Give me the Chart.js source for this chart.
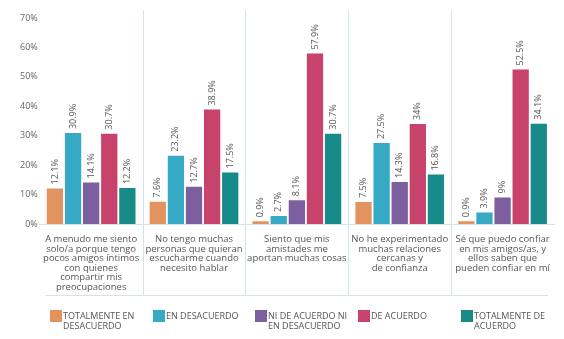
<!DOCTYPE html>
<html>
<head>
<meta charset="utf-8">
<script src="https://cdn.jsdelivr.net/npm/chart.js@4"></script>
<style>
  html, body { margin: 0; padding: 0; background: #fff; }
  #caja { width: 564px; height: 339px; position: relative; }
</style>
</head>
<body>
<div id="caja"><canvas id="barChart"></canvas></div>
<script>
// Afirmaciones (categorias del eje x, ya partidas en lineas)
var afirmaciones = [
    ['A menudo me siento', 'solo/a porque tengo', 'pocos amigos íntimos', 'con quienes', 'compartir mis', 'preocupaciones'],
    ['No tengo muchas', 'personas que quieran', 'escucharme cuando', 'necesito hablar'],
    ['Siento que mis', 'amistades me', 'aportan muchas cosas'],
    ['No he experimentado', 'muchas relaciones', 'cercanas y', 'de confianza'],
    ['Sé que puedo confiar', 'en mis amigos/as, y', 'ellos saben que', 'pueden confiar en mí']
];

// Respuestas (series)
var respuestas = [
    ['TOTALMENTE EN', 'DESACUERDO'],
    ['EN DESACUERDO'],
    ['NI DE ACUERDO NI', 'EN DESACUERDO'],
    ['DE ACUERDO'],
    ['TOTALMENTE DE', 'ACUERDO']
];

var totalDesacuerdo = [12.1, 7.6, 0.9, 7.5, 0.9];
var enDesacuerdo = [30.9, 23.2, 2.7, 27.5, 3.9];
var niAcuerdo = [14.1, 12.7, 8.1, 14.3, 9];
var deAcuerdo = [30.7, 38.9, 57.9, 34, 52.5];
var totalAcuerdo = [12.2, 17.5, 30.7, 16.8, 34.1];

// Etiquetas tal como aparecen encima de cada barra
var textoTotalDesacuerdo = ['12.1%', '7.6%', '0.9%', '7.5%', '0.9%'];
var textoEnDesacuerdo = ['30.9%', '23.2%', '2.7%', '27.5%', '3.9%'];
var textoNiAcuerdo = ['14.1%', '12.7%', '8.1%', '14.3%', '9%'];
var textoDeAcuerdo = ['30.7%', '38.9%', '57.9%', '34%', '52.5%'];
var textoTotalAcuerdo = ['12.2%', '17.5%', '30.7%', '16.8%', '34.1%'];

var ejeY = [0, 10, 20, 30, 40, 50, 60, 70];

var colores = ['#E3935F', '#36AAC4', '#7D5E9F', '#C8436B', '#178B89'];
var fuente = "'Open Sans', sans-serif";
var lineaClara = '#D3E5EB';

var valores = [totalDesacuerdo, enDesacuerdo, niAcuerdo, deAcuerdo, totalAcuerdo];
var textos = [textoTotalDesacuerdo, textoEnDesacuerdo, textoNiAcuerdo, textoDeAcuerdo, textoTotalAcuerdo];

var datasets = [];
for (var i = 0; i < valores.length; i++) {
    datasets.push({
        label: respuestas[i].join(' '),
        data: valores[i],
        etiquetas: textos[i],
        backgroundColor: colores[i],
        borderWidth: 0,
        barPercentage: 0.9,
        categoryPercentage: 0.88
    });
}

// Porcentajes girados encima de cada barra
var pluginEtiquetas = {
    id: 'etiquetas',
    afterDatasetsDraw: function (chart) {
        var ctx = chart.ctx;
        ctx.save();
        ctx.font = '9px ' + fuente;
        ctx.fillStyle = '#555';
        ctx.textAlign = 'left';
        ctx.textBaseline = 'middle';
        chart.data.datasets.forEach(function (ds, d) {
            chart.getDatasetMeta(d).data.forEach(function (bar, j) {
                ctx.save();
                ctx.translate(bar.x, bar.y - 4);
                ctx.rotate(-Math.PI / 2);
                ctx.fillText(ds.etiquetas[j], 0, 0);
                ctx.restore();
            });
        });
        ctx.restore();
    }
};

// Separadores entre grupos, linea inferior y leyenda
var pluginMarco = {
    id: 'marco',
    afterDraw: function (chart) {
        var ctx = chart.ctx;
        var x = chart.scales.x;
        var area = chart.chartArea;
        var paso = x.getPixelForValue(1) - x.getPixelForValue(0);
        var fondo = 295;
        ctx.save();
        ctx.strokeStyle = lineaClara;
        ctx.lineWidth = 1;
        for (var i = 1; i < afirmaciones.length; i++) {
            var px = Math.round(x.getPixelForValue(i) - paso / 2) + 0.5;
            ctx.beginPath();
            ctx.moveTo(px, 10);
            ctx.lineTo(px, fondo);
            ctx.stroke();
        }
        ctx.beginPath();
        ctx.moveTo(area.left + 6, fondo + 0.5);
        ctx.lineTo(area.right - 6, fondo + 0.5);
        ctx.stroke();

        // leyenda
        ctx.font = '9px ' + fuente;
        ctx.textAlign = 'left';
        ctx.textBaseline = 'middle';
        for (var k = 0; k < respuestas.length; k++) {
            var lx = Math.round(x.getPixelForValue(k) - paso / 2) + 10;
            ctx.fillStyle = colores[k];
            ctx.fillRect(lx, 310, 12, 12);
            ctx.fillStyle = '#555';
            for (var l = 0; l < respuestas[k].length; l++) {
                ctx.fillText(respuestas[k][l], lx + 13, 316 + l * 10);
            }
        }
        ctx.restore();
    }
};

new Chart(document.getElementById('barChart').getContext('2d'), {
    type: 'bar',
    data: {
        labels: afirmaciones,
        datasets: datasets
    },
    options: {
        responsive: true,
        maintainAspectRatio: false,
        animation: false,
        layout: { padding: { left: 18, right: 10, top: 18, bottom: 44 } },
        plugins: {
            legend: { display: false },
            tooltip: { enabled: false }
        },
        scales: {
            y: {
                min: 0,
                max: 70,
                afterBuildTicks: function (scale) {
                    scale.ticks = ejeY.map(function (v) { return { value: v }; });
                },
                ticks: {
                    callback: function (v) { return v + '%'; },
                    font: { family: fuente, size: 9 },
                    color: '#666',
                    padding: 2
                },
                grid: { display: false, tickLength: 0 },
                border: { display: false }
            },
            x: {
                grid: { display: false },
                border: { color: lineaClara },
                ticks: {
                    font: { family: fuente, size: 9.5, lineHeight: 1.0 },
                    color: '#555',
                    padding: 3,
                    maxRotation: 0,
                    autoSkip: false
                }
            }
        }
    },
    plugins: [pluginEtiquetas, pluginMarco]
});
</script>
</body>
</html>
